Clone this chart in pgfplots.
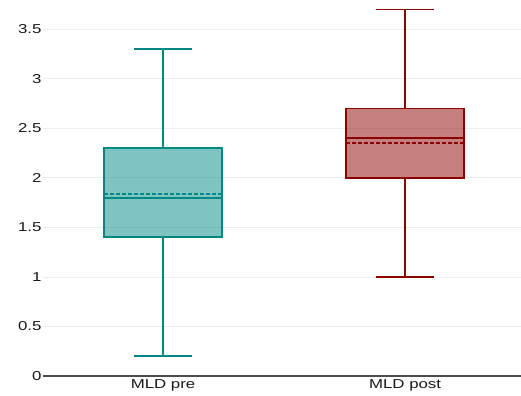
\documentclass[border=0pt]{standalone}
\usepackage{graphicx}
\usepackage{pgfplots}
\pgfplotsset{compat=1.18}
\usepgfplotslibrary{statistics}
\usepackage{fontspec}
\setmainfont{Liberation Sans}
\definecolor{lineA}{RGB}{0,137,132}
\definecolor{lineB}{RGB}{139,0,0}
\definecolor{gridc}{RGB}{236,236,236}
\begin{document}
\begin{tikzpicture}
\useasboundingbox (-43bp,-20bp) rectangle (478bp,376bp);
\begin{axis}[
  scale only axis,
  width=478bp, height=376bp,
  xmin=-0.496, xmax=1.479,
  ymin=0, ymax=3.796,
  axis lines*=left,
  separate axis lines,
  y axis line style={draw=none},
  x axis line style={draw=black!70, line width=1.1pt},
  ytick={0,0.5,1,1.5,2,2.5,3,3.5},
  yticklabel={\scalebox{1.3}[1]{\pgfmathprintnumber{\tick}}},
  xtick={0,1},
  xticklabels={\scalebox{1.3}[1]{MLD pre}, \scalebox{1.3}[1]{MLD post}},
  major tick length=0pt,
  ymajorgrids,
  grid style={gridc, line width=0.8pt},
  tick label style={font=\fontsize{13}{15}\selectfont, black!90},
  /pgf/number format/assume math mode=true,
  yticklabel style={xshift=2bp},
  xticklabel style={yshift=0bp},
  boxplot/draw direction=y,
  clip=false,
]
\addplot[mark=none, solid, draw=lineA, line width=1.6pt, fill=lineA, fill opacity=0.5,
  boxplot/every box/.style={draw=lineA, line width=1.8pt, fill=lineA, fill opacity=0.5},
  boxplot/every median/.style={draw=lineA, line width=1.8pt},
  boxplot/every whisker/.style={draw=lineA, line width=1.6pt},
  boxplot prepared={lower whisker=0.2, lower quartile=1.4, median=1.8,
    upper quartile=2.3, upper whisker=3.3, draw position=0,
    box extend=0.49, whisker extend=0.24}]
  coordinates {};
\addplot[mark=none, solid, draw=lineB, line width=1.6pt, fill=lineB, fill opacity=0.5,
  boxplot/every box/.style={draw=lineB, line width=1.8pt, fill=lineB, fill opacity=0.5},
  boxplot/every median/.style={draw=lineB, line width=1.8pt},
  boxplot/every whisker/.style={draw=lineB, line width=1.6pt},
  boxplot prepared={lower whisker=1.0, lower quartile=2.0, median=2.4,
    upper quartile=2.7, upper whisker=3.7, draw position=1,
    box extend=0.49, whisker extend=0.24}]
  coordinates {};
\addplot[draw=lineA, mark=none, line width=2pt, dash pattern=on 4bp off 2bp] coordinates {(-0.245,1.842) (0.245,1.842)};
\addplot[draw=lineB, mark=none, line width=2pt, dash pattern=on 4bp off 2bp] coordinates {(0.755,2.355) (1.245,2.355)};
\end{axis}
\end{tikzpicture}
\end{document}
